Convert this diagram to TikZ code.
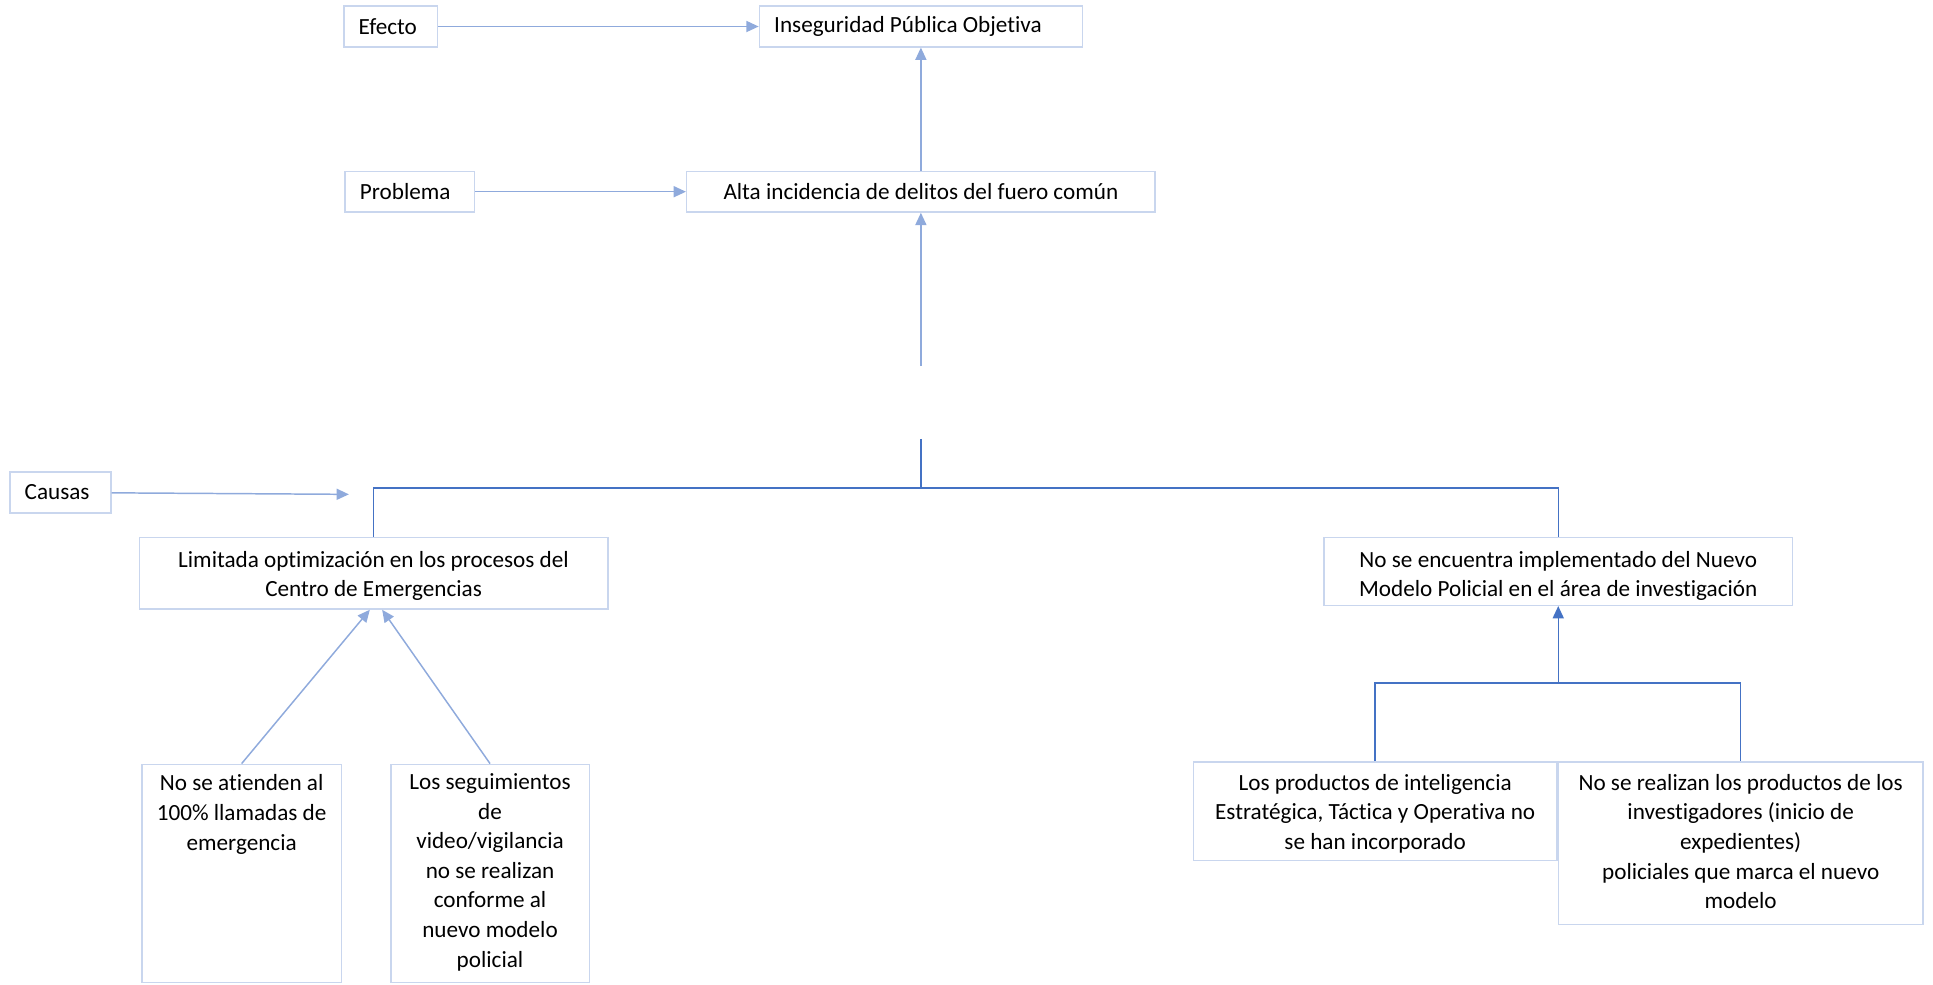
\documentclass[tikz,border=0pt]{standalone}
\usepackage{fontspec}
\setmainfont[Ligatures=NoCommon]{Carlito}
\usetikzlibrary{arrows.meta}

\definecolor{boxline}{HTML}{C9D6EE}
\definecolor{lightarr}{HTML}{8FAADC}
\definecolor{darkarr}{HTML}{4472C4}

\tikzset{
  cajaizq/.style={draw=boxline, line width=0.6pt, rectangle, align=flush left, inner xsep=6pt, inner ysep=0pt},
  caja/.style={draw=boxline, line width=0.6pt, rectangle, align=center, inner sep=0pt},
  flecha/.style={draw=lightarr, line width=0.6pt, -{Triangle[length=5pt, width=4.5pt]}},
  rama/.style={draw=darkarr, line width=0.6pt}
}
\newcommand{\textoarriba}[4][3pt]{\parbox[c][#2][t]{#3}{\vspace*{#1}\centering #4}}

\begin{document}
\begin{tikzpicture}[x=0.5pt, y=-0.5pt, font=\fontsize{9.4}{12}\selectfont]
    \useasboundingbox (0, 0) rectangle (1568, 799);
    % efecto y problema
    \node [cajaizq, text width=26pt, minimum height=16.5pt] (efecto) at (317, 21.5) {Efecto};
    \node [cajaizq, text width=119pt, minimum height=16.5pt] (inseg) at (747, 21.5) {\raisebox{-1pt}{Inseguridad Pública Objetiva}};
    \node [cajaizq, text width=40.5pt, minimum height=16.5pt] (problema) at (332.5, 155.5) {Problema};
    \node [caja, minimum width=190pt, minimum height=16.5pt] (alta) at (747, 155.5) {Alta incidencia de delitos del fuero común};
    \draw [flecha]   (efecto) -- (inseg);
    \draw [flecha]   (problema) -- (alta);
    \draw [flecha]   (alta) -- (inseg);
    \coordinate (corte) at (747, 297);
    \draw [flecha]   (corte) -- (alta);
    % causas
    \node [cajaizq, text width=29pt, minimum height=16.5pt] (causas) at (49, 399.5) {Causas};
    \coordinate (punta) at (283, 401);
    \draw [flecha]   (causas) -- (punta);
    \coordinate (arranque) at (747, 356);
    \coordinate (nudo) at (747, 396);
    \node [caja, minimum width=190pt, minimum height=29pt] (limitada) at (303, 465)
      {\textoarriba[5pt]{28pt}{188pt}{Limitada optimización en los procesos del\\Centro de Emergencias}};
    \node [caja, minimum width=190pt, minimum height=27.5pt] (encuentra) at (1264, 463.5)
      {\textoarriba[5pt]{26.5pt}{188pt}{No se encuentra implementado del Nuevo\\Modelo Policial en el área de investigación}};
    \draw [rama]     (arranque) -- (nudo) -| (limitada.north);
    \draw [rama]     (nudo) -| (encuentra.north);
    % causas secundarias (izquierda)
    \node [caja, minimum width=81pt, minimum height=88.5pt] (atienden) at (196, 708.5)
      {\textoarriba{86pt}{78pt}{No se atienden al\\100\% llamadas de\\emergencia}};
    \node [caja, minimum width=80.5pt, minimum height=88.5pt] (seguim) at (397.5, 708.5)
      {\textoarriba{87pt}{78pt}{Los seguimientos\\de\\video/vigilancia\\no se realizan\\conforme al\\nuevo modelo\\policial}};
    \draw [flecha]   (atienden.north) -- ([xshift=-1.5pt]limitada.south);
    \draw [flecha]   (seguim.north) -- ([xshift=3.5pt]limitada.south);
    % causas secundarias (derecha)
    \node [caja, minimum width=147.5pt, minimum height=40pt] (productos) at (1115.5, 658)
      {\textoarriba[4.5pt]{39pt}{145pt}{Los productos de inteligencia\\Estratégica, Táctica y Operativa no\\se han incorporado}};
    \node [caja, minimum width=148pt, minimum height=66pt] (realizan) at (1412, 684)
      {\textoarriba[4.5pt]{65pt}{145pt}{No se realizan los productos de los\\investigadores (inicio de\\expedientes)\\policiales que marca el nuevo\\modelo}};
    \coordinate (nudoder) at (1264, 554);
    \draw [rama, -{Triangle[length=5pt, width=4.5pt]}] (nudoder) -- (encuentra.south);
    \draw [rama]     (productos.north) |- (nudoder) -| (realizan.north);
\end{tikzpicture}
\end{document}
